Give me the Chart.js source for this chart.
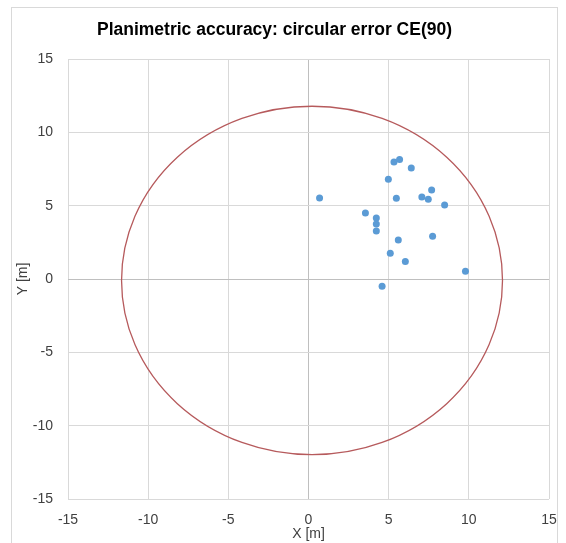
<!DOCTYPE html>
<html>
<head>
<meta charset="utf-8">
<script src="https://cdn.jsdelivr.net/npm/chart.js@4/dist/chart.umd.min.js"></script>
<style>
  html, body { margin: 0; padding: 0; background: #fff; }
  #wrap { width: 566px; height: 543px; position: relative; }
</style>
</head>
<body>
<div id="wrap"><canvas id="c" width="566" height="543"></canvas></div>
<script>
// Measured error points (metres)
const errX = [0.69, 5.33, 5.68, 6.41, 4.98, 7.68, 7.07, 7.47, 5.48, 8.49, 3.55, 4.23, 4.23, 4.23, 5.60, 7.74, 5.10, 6.04, 9.79, 4.59];
const errY = [5.52, 7.98, 8.14, 7.57, 6.80, 6.07, 5.59, 5.43, 5.50, 5.05, 4.50, 4.16, 3.75, 3.27, 2.66, 2.91, 1.75, 1.20, 0.52, -0.50];
// CE(90) circle: centre and radius (metres)
const circleCenter = [0.22, -0.1];
const circleRadius = [11.88];
// Axis ticks
const tickValues = [-15, -10, -5, 0, 5, 10, 15];

const points = errX.map((x, i) => ({ x: x, y: errY[i] }));

const circlePlugin = {
  id: 'ce90circle',
  beforeDatasetsDraw(chart) {
    const xs = chart.scales.x, ys = chart.scales.y, ctx = chart.ctx;
    const cx = xs.getPixelForValue(circleCenter[0]);
    const cy = ys.getPixelForValue(circleCenter[1]);
    const rx = Math.abs(xs.getPixelForValue(circleCenter[0] + circleRadius[0]) - cx);
    const ry = Math.abs(ys.getPixelForValue(circleCenter[1] + circleRadius[0]) - cy);
    ctx.save();
    ctx.beginPath();
    ctx.ellipse(cx, cy, rx, ry, 0, 0, Math.PI * 2);
    ctx.strokeStyle = '#b65a5c';
    ctx.lineWidth = 1.3;
    ctx.stroke();
    ctx.restore();
  }
};

const framePlugin = {
  id: 'frame',
  afterDraw(chart) {
    const ctx = chart.ctx;
    ctx.save();
    ctx.strokeStyle = '#d9d9d9';
    ctx.lineWidth = 1;
    ctx.strokeRect(11.5, 7.5, 546, 545);
    ctx.restore();
  }
};

const gridColor = (c) => (c.tick && c.tick.value === 0) ? '#bfbfbf' : '#d9d9d9';
const tickFont = { family: 'Liberation Sans', size: 14 };

new Chart(document.getElementById('c'), {
  type: 'scatter',
  data: {
    datasets: [{
      label: 'errors',
      data: points,
      backgroundColor: '#5b9bd5',
      borderColor: '#5b9bd5',
      pointRadius: 3.5,
      pointHoverRadius: 3.5,
      borderWidth: 0
    }]
  },
  options: {
    responsive: false,
    animation: false,
    devicePixelRatio: 1,
    layout: { padding: { left: 0, right: 17, top: 0, bottom: 0 } },
    plugins: {
      legend: { display: false },
      tooltip: { enabled: false },
      title: {
        display: true,
        text: 'Planimetric accuracy: circular error CE(90)',
        color: '#000',
        font: { family: 'Liberation Sans', size: 17.5, weight: 'bold', lineHeight: 1.2 },
        padding: { top: 19.5, bottom: 18.5 }
      }
    },
    scales: {
      x: {
        type: 'linear',
        min: -15, max: 15,
        afterBuildTicks: (s) => { s.ticks = tickValues.map(v => ({ value: v })); },
        afterFit: (s) => { s.height = 44; s.paddingLeft = 0; s.paddingRight = 0; },
        grid: { color: gridColor, drawTicks: false, lineWidth: 1 },
        border: { display: false },
        ticks: { color: '#404040', font: tickFont, padding: 13, maxRotation: 0 },
        title: { display: true, text: 'X [m]', color: '#404040', font: tickFont, padding: { top: 0, bottom: 0 } }
      },
      y: {
        type: 'linear',
        min: -15, max: 15,
        afterBuildTicks: (s) => { s.ticks = tickValues.map(v => ({ value: v })); },
        afterFit: (s) => { s.width = 68; s.paddingTop = 0; s.paddingBottom = 0; },
        grid: { color: gridColor, drawTicks: false, lineWidth: 1 },
        border: { display: false },
        ticks: { color: '#404040', font: tickFont, padding: 15 },
        title: { display: true, text: 'Y [m]', color: '#404040', font: tickFont, padding: { top: 15, bottom: 0 } }
      }
    }
  },
  plugins: [circlePlugin, framePlugin]
});
</script>
</body>
</html>
